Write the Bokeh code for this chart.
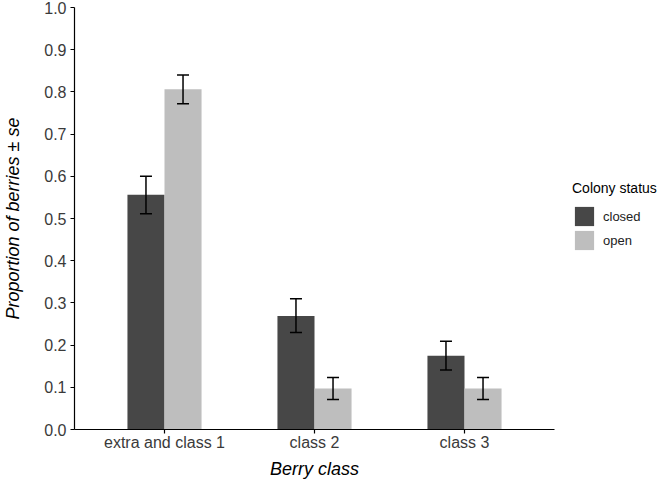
from bokeh.plotting import figure
from bokeh.models import FactorRange, Range1d, ColumnDataSource, Legend, LegendItem, Whisker, SingleIntervalTicker, CustomJSTickFormatter
from bokeh.transform import dodge
from bokeh.embed import file_html
from bokeh.resources import INLINE

categories = ["extra and class 1", "class 2", "class 3"]
statuses = ["closed", "open"]
closed_mean = [0.556, 0.269, 0.175]
closed_lo = [0.511, 0.230, 0.141]
closed_hi = [0.600, 0.310, 0.209]
open_mean = [0.806, 0.097, 0.097]
open_lo = [0.772, 0.071, 0.071]
open_hi = [0.840, 0.123, 0.123]
colors = {"closed": "#474747", "open": "#bebebe"}

FONT = "Liberation Sans"

p = figure(frame_width=480, frame_height=422, output_backend="svg", toolbar_location=None,
           x_range=FactorRange(factors=categories, range_padding=0.2 / 3),
           y_range=Range1d(0, 1.0),
           min_border_left=73, min_border_right=105, min_border_top=7, min_border_bottom=0)
p.outline_line_color = None
p.grid.visible = False
p.background_fill_color = "white"

bw = 0.247
src_c = ColumnDataSource(dict(x=categories, top=closed_mean, lo=closed_lo, hi=closed_hi))
src_o = ColumnDataSource(dict(x=categories, top=open_mean, lo=open_lo, hi=open_hi))
rc = p.vbar(x=dodge("x", -bw / 2, range=p.x_range), top="top", width=bw, source=src_c,
            fill_color=colors["closed"], line_color=None)
ro = p.vbar(x=dodge("x", bw / 2, range=p.x_range), top="top", width=bw, source=src_o,
            fill_color=colors["open"], line_color=None)

for src, off in ((src_c, -bw / 2), (src_o, bw / 2)):
    w = Whisker(base=dodge("x", off, range=p.x_range), upper="hi", lower="lo", source=src,
                line_color="black", line_width=1.5, level="overlay")
    for h in (w.upper_head, w.lower_head):
        h.size = 12
        h.line_width = 1.5
        h.line_color = "black"
    p.add_layout(w)

p.yaxis.ticker = SingleIntervalTicker(interval=0.1)
p.yaxis.formatter = CustomJSTickFormatter(code="return tick.toFixed(1);")

for ax in (p.xaxis[0], p.yaxis[0]):
    ax.axis_line_color = "black"
    ax.axis_line_width = 1.2
    ax.major_tick_line_color = "black"
    ax.major_tick_line_width = 1.2
    ax.major_tick_out = 4
    ax.major_tick_in = 0
    ax.minor_tick_line_color = None
    ax.major_label_text_font = FONT
    ax.major_label_text_font_size = "16px"
    ax.major_label_text_color = "#3a3a3a"
    ax.axis_label_text_font = FONT
    ax.axis_label_text_font_size = "18px"
    ax.axis_label_text_font_style = "italic"
    ax.axis_label_text_color = "black"

p.xaxis.axis_label = "Berry class"
p.yaxis.axis_label = "Proportion of berries ± se"
p.xaxis.major_label_standoff = 0
p.yaxis.major_label_standoff = 4
p.xaxis.axis_label_standoff = 5
p.yaxis.axis_label_standoff = 18

legend = Legend(items=[LegendItem(label="closed", renderers=[rc]),
                       LegendItem(label="open", renderers=[ro])],
                location=(18, 177), title="Colony status", orientation="vertical",
                title_text_font=FONT, title_text_font_size="14px", title_text_font_style="normal",
                title_text_color="black",
                label_text_font=FONT, label_text_font_size="13px", label_text_color="#222222",
                glyph_width=24, glyph_height=24, label_height=22, spacing=0,
                padding=0, margin=0, border_line_color=None, background_fill_alpha=0,
                label_standoff=7, title_standoff=8)
p.add_layout(legend, "right")

open("out.html", "w").write(file_html(p, INLINE))
